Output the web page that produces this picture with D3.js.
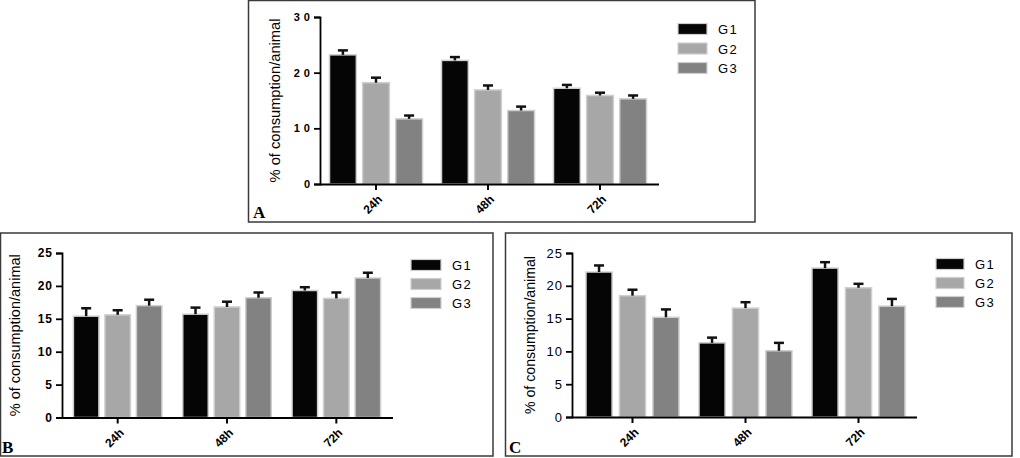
<!DOCTYPE html>
<html>
<head>
<meta charset="utf-8">
<script src="https://cdn.jsdelivr.net/npm/d3@7"></script>
<style>
  body { margin: 0; background: #fff; }
  svg { display: block; }
  text { font-family: "Liberation Sans", Arial, sans-serif; fill: #000; }
</style>
</head>
<body>
<svg id="chart" width="1020" height="458"></svg>
<script>
// categories
var times = ["24h", "48h", "72h"];
var groups = ["G1", "G2", "G3"];

// panel A: mean and SEM per group, one value per time
var meanA = [[23.2, 22.2, 17.2], [18.2, 16.9, 15.9], [11.7, 13.2, 15.3]];
var errA  = [[0.8, 0.6, 0.6], [0.9, 0.8, 0.5], [0.6, 0.7, 0.6]];
var ticksA = [0, 10, 20, 30];

// panel B
var meanB = [[15.4, 15.7, 19.3], [15.6, 16.8, 18.1], [17.0, 18.2, 21.2]];
var errB  = [[1.2, 1.0, 0.5], [0.7, 0.8, 0.9], [0.9, 0.8, 0.8]];
var ticksB = [0, 5, 10, 15, 20, 25];

// panel C
var meanC = [[22.1, 11.3, 22.7], [18.5, 16.6, 19.7], [15.2, 10.1, 16.9]];
var errC  = [[1.0, 0.8, 0.9], [0.9, 0.9, 0.6], [1.2, 1.2, 1.1]];
var ticksC = [0, 5, 10, 15, 20, 25];

var yLabel = "% of consumption/animal";
var colors = ["#050505", "#a7a7a7", "#828282"];

var svg = d3.select("#chart");

function drawPanel(p) {
  // frame
  svg.append("rect")
    .attr("x", p.box[0]).attr("y", p.box[1])
    .attr("width", p.box[2] - p.box[0]).attr("height", p.box[3] - p.box[1])
    .attr("fill", "none").attr("stroke", "#3a3a3a").attr("stroke-width", 1.5);

  var x = d3.scaleBand().domain(times).range(p.xr);
  var xg = d3.scaleBand().domain(groups).range([-1.5 * p.step, 1.5 * p.step]).paddingInner(p.gap);
  var y = d3.scaleLinear().domain([0, p.yMax]).range([p.y0, p.yTop]);

  var g = svg.append("g");

  // bars
  groups.forEach(function(grp, gi) {
    var rows = times.map(function(t, ti) { return {t: t, v: p.mean[gi][ti], e: p.err[gi][ti]}; });
    var gg = g.append("g");
    gg.selectAll("rect").data(rows).enter().append("rect")
      .attr("x", function(d) { return x(d.t) + x.bandwidth() / 2 + xg(grp); })
      .attr("y", function(d) { return y(d.v); })
      .attr("width", xg.bandwidth())
      .attr("height", function(d) { return y(0) - y(d.v); })
      .attr("fill", colors[gi])
      .attr("stroke", "#cfcfcf").attr("stroke-width", 1.5);
    var cx = function(d) { return x(d.t) + x.bandwidth() / 2 + xg(grp) + xg.bandwidth() / 2; };
    gg.selectAll("line.eb").data(rows).enter().append("line")
      .attr("class", "eb")
      .attr("x1", cx).attr("x2", cx)
      .attr("y1", function(d) { return y(d.v); })
      .attr("y2", function(d) { return y(d.v + d.e); })
      .attr("stroke", "#111").attr("stroke-width", 2.5);
    gg.selectAll("line.cap").data(rows).enter().append("line")
      .attr("class", "cap")
      .attr("x1", function(d) { return cx(d) - 5; })
      .attr("x2", function(d) { return cx(d) + 5; })
      .attr("y1", function(d) { return y(d.v + d.e); })
      .attr("y2", function(d) { return y(d.v + d.e); })
      .attr("stroke", "#111").attr("stroke-width", 2.5);
  });

  // y axis
  var ya = g.append("g").attr("transform", "translate(" + p.xAxis + ",0)")
    .call(d3.axisLeft(y).tickValues(p.ticks).tickSize(6).tickPadding(4));
  ya.select(".domain").attr("stroke", "#000").attr("stroke-width", 1.8);
  ya.selectAll(".tick line").attr("stroke", "#000").attr("stroke-width", 1.8);
  ya.selectAll(".tick text")
    .style("font-family", "'Liberation Sans', Arial, sans-serif")
    .style("font-size", p.tickFont + "px")
    .style("font-weight", p.tickBold ? "bold" : "normal")
    .style("letter-spacing", p.tickSpacing + "px")
    .attr("dx", p.tickSpacing);

  // x axis
  var xa = g.append("g").attr("transform", "translate(0," + p.y0 + ")")
    .call(d3.axisBottom(x).tickSize(6).tickSizeOuter(0));
  xa.select(".domain").attr("d", "M" + p.xAxis + ",0.5H" + p.xEnd)
    .attr("stroke", "#000").attr("stroke-width", 1.8);
  xa.selectAll(".tick line").attr("stroke", "#000").attr("stroke-width", 2);
  xa.selectAll(".tick text")
    .style("font-family", "'Liberation Sans', Arial, sans-serif")
    .style("font-size", "12px")
    .style("font-weight", "bold")
    .attr("text-anchor", "end")
    .attr("x", 0).attr("y", 0)
    .attr("dy", "0.35em")
    .attr("transform", "translate(4,13) rotate(-45)");

  // y label
  svg.append("text")
    .attr("transform", "translate(" + p.labelX + "," + ((p.y0 + p.yTop) / 2) + ") rotate(-90)")
    .attr("text-anchor", "middle")
    .attr("textLength", p.labelLen)
    .attr("lengthAdjust", "spacingAndGlyphs")
    .style("font-size", "14px")
    .text(yLabel);

  // legend
  groups.forEach(function(grp, gi) {
    var cy = p.leg[1] + gi * p.leg[3];
    svg.append("rect")
      .attr("x", p.leg[0]).attr("y", cy - 5.5)
      .attr("width", p.leg[2]).attr("height", 11)
      .attr("fill", colors[gi]).attr("stroke", "#cfcfcf").attr("stroke-width", 1.2);
    svg.append("text")
      .attr("x", p.leg[0] + p.leg[2] + 11).attr("y", cy + 5)
      .style("font-size", "13px")
      .style("letter-spacing", "1.5px")
      .text(grp);
  });

  // panel letter
  svg.append("text")
    .attr("x", p.letter[0]).attr("y", p.letter[1])
    .style("font-family", "'Liberation Serif', 'Times New Roman', serif")
    .style("font-weight", "bold")
    .style("font-size", "17px")
    .text(p.name);
}

drawPanel({
  name: "A", box: [248.5, 0.5, 755, 222],
  mean: meanA, err: errA, ticks: ticksA, yMax: 30,
  xAxis: 320, xEnd: 659, xr: [320, 656], y0: 184, yTop: 17,
  step: 31, gap: 0.19,
  tickFont: 11, tickBold: true, tickSpacing: 4,
  labelX: 280, labelLen: 164,
  leg: [678, 29, 29, 19.5], letter: [253, 218]
});

drawPanel({
  name: "B", box: [0.5, 233, 493, 456],
  mean: meanB, err: errB, ticks: ticksB, yMax: 25,
  xAxis: 62, xEnd: 393, xr: [63, 391], y0: 417.5, yTop: 253,
  step: 29.5, gap: 0.19,
  tickFont: 12, tickBold: true, tickSpacing: 1,
  labelX: 20, labelLen: 162,
  leg: [411, 265, 30, 19], letter: [2, 453]
});

drawPanel({
  name: "C", box: [505.5, 233, 1012, 456],
  mean: meanC, err: errC, ticks: ticksC, yMax: 25,
  xAxis: 572, xEnd: 917, xr: [576, 915], y0: 417, yTop: 253,
  step: 31, gap: 0.22,
  tickFont: 13, tickBold: false, tickSpacing: 1,
  labelX: 535, labelLen: 158,
  leg: [936, 264, 28, 19], letter: [509, 453]
});
</script>
</body>
</html>
